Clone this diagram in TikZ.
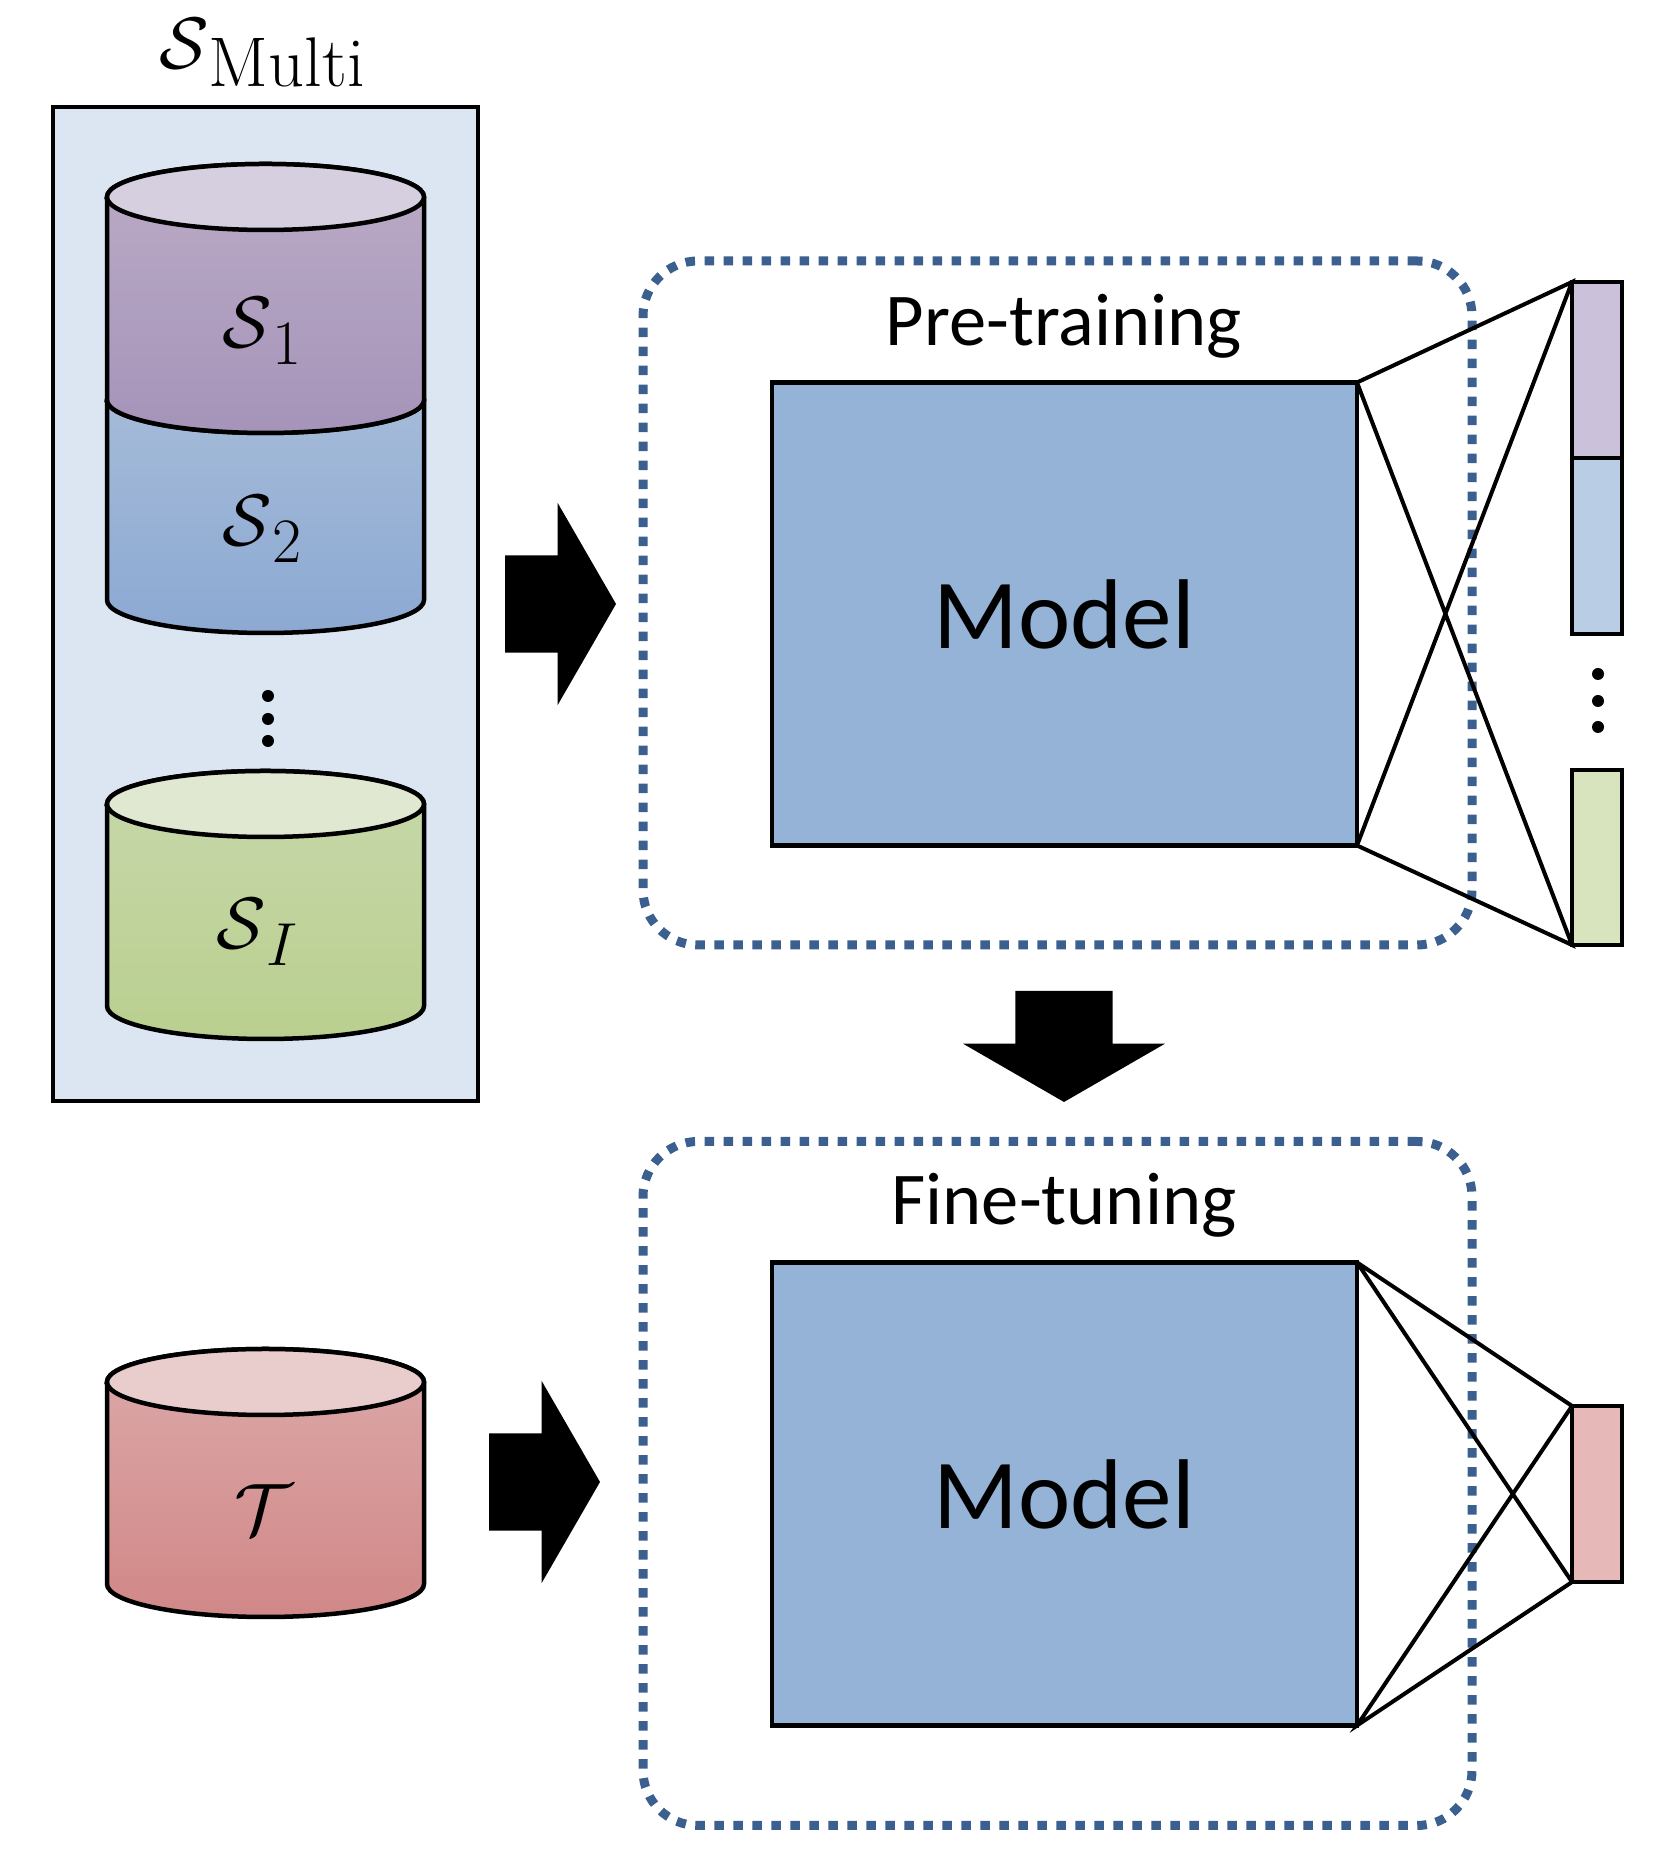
\documentclass[tikz,border=0pt]{standalone}
\usepackage[no-math]{fontspec}
\usepackage{amsmath}
\usetikzlibrary{shapes.arrows}
\newfontfamily\labelfont{Carlito}

\definecolor{sheetblue}{HTML}{DCE6F2}
\definecolor{modelblue}{HTML}{95B3D7}
\definecolor{dotblue}{HTML}{3B5F8F}
\definecolor{seglilac}{HTML}{CCC1DA}
\definecolor{segblue}{HTML}{B9CDE5}
\definecolor{seggreen}{HTML}{D7E4BD}
\definecolor{segred}{HTML}{E6B9B8}
\definecolor{lilactop}{HTML}{BBABC6}
\definecolor{lilacbot}{HTML}{A594B9}
\definecolor{lilaclid}{HTML}{D6CFE0}
\definecolor{bluetop}{HTML}{A8BDD9}
\definecolor{bluebot}{HTML}{8CA9D3}
\definecolor{greentop}{HTML}{C8D8AB}
\definecolor{greenbot}{HTML}{B9CF8F}
\definecolor{greenlid}{HTML}{E0E8D2}
\definecolor{redtop}{HTML}{DCA9A9}
\definecolor{redbot}{HTML}{D18787}
\definecolor{redlid}{HTML}{E9CCCC}

\newcommand{\drum}[5]{
  \draw[line width=.045cm,top color=#3,bottom color=#4] (1.07,#1) -- (1.07,#2)
    arc[start angle=180,end angle=360,x radius=1.585,y radius=.33] -- (4.24,#1)
    arc[start angle=0,end angle=180,x radius=1.585,y radius=.33] -- cycle;
  \draw[line width=.045cm,fill=#5] (2.655,#1) ellipse[x radius=1.585,y radius=.33];
}
\newcommand{\setsub}[2]{$\mathcal{S}$\raisebox{-.24em}{\fontsize{#1}{24}\selectfont #2}}

\tikzset{
  phasebox/.style={draw=dotblue,line width=.09cm,dash pattern=on .095cm off .095cm,
    rounded corners=.55cm,minimum width=8.29cm,minimum height=6.84cm,outer sep=0pt},
  modelbox/.style={draw,line width=.045cm,fill=modelblue,minimum width=5.85cm,
    minimum height=4.63cm,outer sep=0pt,font=\labelfont\fontsize{28.2}{34}\selectfont},
  headbox/.style={draw,line width=.045cm,minimum width=.5cm,minimum height=1.76cm,
    inner sep=0pt,outer sep=0pt},
  blockarrow/.style={fill=black,single arrow,inner xsep=0pt,inner ysep=.48cm,outer sep=0pt,
    minimum height=1.11cm,minimum width=2.01cm,single arrow head extend=.525cm,
    single arrow tip angle=120,anchor=tip},
  phaselabel/.style={font=\labelfont\fontsize{21.2}{25}\selectfont},
  setlabel/.style={font=\fontsize{21}{26}\selectfont},
  link/.style={line width=.04cm}
}

\begin{document}
\begin{tikzpicture}

  \useasboundingbox (0,0) rectangle (16.61,18.51);

  \node[draw,line width=.045cm,fill=sheetblue,minimum width=4.25cm,minimum height=9.94cm] (sheet) at (2.655,12.47) {};
  \node[setlabel] (smulti) at (2.62,17.98) {\setsub{20}{Multi}};

  \drum{14.51}{12.51}{bluetop}{bluebot}{bluetop}
  \drum{16.54}{14.51}{lilactop}{lilacbot}{lilaclid}
  \drum{10.47}{8.45}{greentop}{greenbot}{greenlid}
  \drum{4.69}{2.67}{redtop}{redbot}{redlid}

  \node[setlabel] (s1) at (2.62,15.20) {\setsub{18}{1}};
  \node[setlabel] (s2) at (2.62,13.22) {\setsub{18}{2}};
  \node[setlabel] (si) at (2.57,9.19) {\setsub{18}{$I$}};
  \node[setlabel] (t) at (2.64,3.41) {$\mathcal{T}$};

  \foreach \y in {11.55,11.32,11.10} \fill (2.68,\y) circle (.06);
  \foreach \y in {11.77,11.50,11.24} \fill (15.98,\y) circle (.06);

  \node[phasebox] (pre) at (10.575,12.48) {};
  \node[phasebox] (fine) at (10.575,3.675) {};
  \node[phaselabel] (pretext) at (10.64,15.25) {Pre-training};
  \node[phaselabel] (finetext) at (10.64,6.46) {Fine-tuning};

  \node[modelbox] (m1) at (10.645,12.37) {Model};
  \node[modelbox] (m2) at (10.645,3.57) {Model};

  \node[headbox,fill=seglilac] (h1) at (15.97,14.81) {};
  \node[headbox,fill=segblue] (h2) at (15.97,13.05) {};
  \node[headbox,fill=seggreen,minimum height=1.75cm] (h3) at (15.97,9.935) {};
  \node[headbox,fill=segred] (h4) at (15.97,3.57) {};

  \draw[link] (m1.north east) -- (h1.north west) -- (m1.south east) -- (h3.south west) -- (m1.north east);
  \draw[link] (m2.north east) -- (h4.north west) -- (m2.south east) -- (h4.south west) -- (m2.north east);

  \node[blockarrow] (a1) at (6.16,12.47) {};
  \node[blockarrow,rotate=-90] (a2) at (10.64,7.49) {};
  \node[blockarrow] (a3) at (6.0,3.69) {};

\end{tikzpicture}
\end{document}
